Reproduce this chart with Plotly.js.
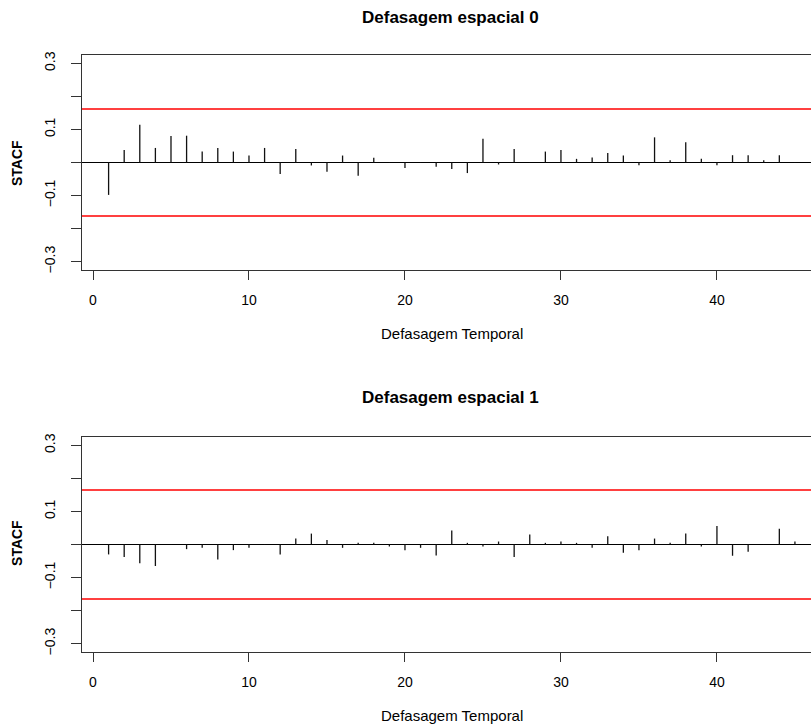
<!DOCTYPE html>
<html>
<head>
<meta charset="utf-8">
<script src="https://cdn.plot.ly/plotly-3.0.1.min.js"></script>
<style>html,body{margin:0;padding:0;background:#fff;}#chart{width:811px;height:726px;}</style>
</head>
<body>
<div id="chart"></div>
<script>
// Data
const lags = [1,2,3,4,5,6,7,8,9,10,11,12,13,14,15,16,17,18,19,20,21,22,23,24,25,26,27,28,29,30,31,32,33,34,35,36,37,38,39,40,41,42,43,44,45];
const stacf0 = [-0.098,0.038,0.114,0.044,0.080,0.081,0.033,0.044,0.033,0.021,0.044,-0.035,0.041,-0.009,-0.028,0.021,-0.040,0.014,0.001,-0.017,0.001,-0.013,-0.020,-0.032,0.072,-0.006,0.041,0.001,0.033,0.038,0.011,0.015,0.029,0.021,-0.008,0.076,0.007,0.061,0.011,-0.008,0.022,0.022,0.007,0.022,0.001];
const stacf1 = [-0.030,-0.038,-0.057,-0.065,0.001,-0.014,-0.010,-0.045,-0.017,-0.010,0.001,-0.030,0.018,0.033,0.014,-0.010,0.005,0.005,-0.006,-0.017,-0.010,-0.033,0.042,0.005,-0.006,0.009,-0.038,0.030,0.005,0.009,0.005,-0.010,0.025,-0.025,-0.017,0.018,0.005,0.033,-0.006,0.056,-0.034,-0.022,0.001,0.048,0.009];
const bound0 = 0.162;
const bound1 = 0.165;
const titles = ["Defasagem espacial 0", "Defasagem espacial 1"];
const xTitle = "Defasagem Temporal";
const yTitle = "STACF";
const xTicks = [0,10,20,30,40];
const yTicks = [-0.3,-0.2,-0.1,0,0.1,0.2,0.3];
const yTickText = ["\u22120.3","","\u22120.1","","0.1","","0.3"];

function stems(x, y){
  const xs=[], ys=[];
  for(let i=0;i<x.length;i++){ xs.push(x[i],x[i],null); ys.push(0,y[i],null); }
  return {xs, ys};
}
const s0 = stems(lags, stacf0), s1 = stems(lags, stacf1);
const FONT = "Liberation Sans, Arial, sans-serif";

const traces = [
  {x:s0.xs, y:s0.ys, xaxis:'x', yaxis:'y', mode:'lines', line:{color:'#111', width:1.3}, hoverinfo:'skip', showlegend:false},
  {x:s1.xs, y:s1.ys, xaxis:'x2', yaxis:'y2', mode:'lines', line:{color:'#111', width:1.3}, hoverinfo:'skip', showlegend:false}
];

const xr = [-0.705, 46.03];
const yr = [-0.325, 0.325];
function xax(anchor){
  return {domain:[0,1], anchor:anchor, range:xr, showgrid:false, zeroline:false,
    showline:true, mirror:true, linecolor:'#333', linewidth:1,
    ticks:'outside', ticklen:9, tickwidth:1, tickcolor:'#333',
    tickmode:'array', tickvals:xTicks, ticktext:xTicks.map(String),
    tickfont:{family:FONT, size:14, color:'#000'}, ticklabelstandoff:8};
}
function yax(anchor, dom){
  return {domain:dom, anchor:anchor, range:yr, showgrid:false,
    zeroline:true, zerolinecolor:'#000', zerolinewidth:1,
    showline:true, mirror:false, linecolor:'#333', linewidth:1,
    ticks:'outside', ticklen:10, tickwidth:1, tickcolor:'#333',
    tickmode:'array', tickvals:yTicks, ticktext:yTickText, tickangle:-90,
    tickfont:{family:FONT, size:14, color:'#000'}, ticklabelstandoff:10};
}

const layout = {
  width:811, height:726,
  margin:{l:82, r:0, t:55, b:74},
  paper_bgcolor:'#fff', plot_bgcolor:'#fff',
  font:{family:FONT, color:'#000'},
  xaxis: xax('y'),
  yaxis: yax('x', [0.6399,1]),
  xaxis2: xax('y2'),
  yaxis2: yax('x2', [0,0.3601]),
  shapes:[
    {type:'line', xref:'x domain', yref:'y', x0:0, x1:1, y0:bound0, y1:bound0, line:{color:'#ff0000', width:1.5}},
    {type:'line', xref:'x domain', yref:'y', x0:0, x1:1, y0:-bound0, y1:-bound0, line:{color:'#ff0000', width:1.5}},
    {type:'line', xref:'x2 domain', yref:'y2', x0:0, x1:1, y0:bound1, y1:bound1, line:{color:'#ff0000', width:1.5}},
    {type:'line', xref:'x2 domain', yref:'y2', x0:0, x1:1, y0:-bound1, y1:-bound1, line:{color:'#ff0000', width:1.5}}
  ],
  annotations:[
    {text:'<b>'+titles[0]+'</b>', xref:'paper', yref:'paper', x:0.505, y:1.062, xanchor:'center', yanchor:'middle', showarrow:false, font:{family:FONT, size:17, color:'#000'}},
    {text:'<b>'+titles[1]+'</b>', xref:'paper', yref:'paper', x:0.505, y:0.4255, xanchor:'center', yanchor:'middle', showarrow:false, font:{family:FONT, size:17, color:'#000'}},
    {text:xTitle, xref:'paper', yref:'paper', x:0.5075, y:0.5327, xanchor:'center', yanchor:'middle', showarrow:false, font:{family:FONT, size:15, color:'#000'}},
    {text:xTitle, xref:'paper', yref:'paper', x:0.5075, y:-0.107, xanchor:'center', yanchor:'middle', showarrow:false, font:{family:FONT, size:15, color:'#000'}},
    {text:'<b>'+yTitle+'</b>', xref:'paper', yref:'paper', x:-0.0892, y:0.819, xanchor:'center', yanchor:'middle', textangle:-90, showarrow:false, font:{family:FONT, size:14, color:'#000'}},
    {text:'<b>'+yTitle+'</b>', xref:'paper', yref:'paper', x:-0.0892, y:0.1826, xanchor:'center', yanchor:'middle', textangle:-90, showarrow:false, font:{family:FONT, size:14, color:'#000'}}
  ]
};

Plotly.newPlot('chart', traces, layout, {displayModeBar:false, staticPlot:true});
</script>
</body>
</html>
